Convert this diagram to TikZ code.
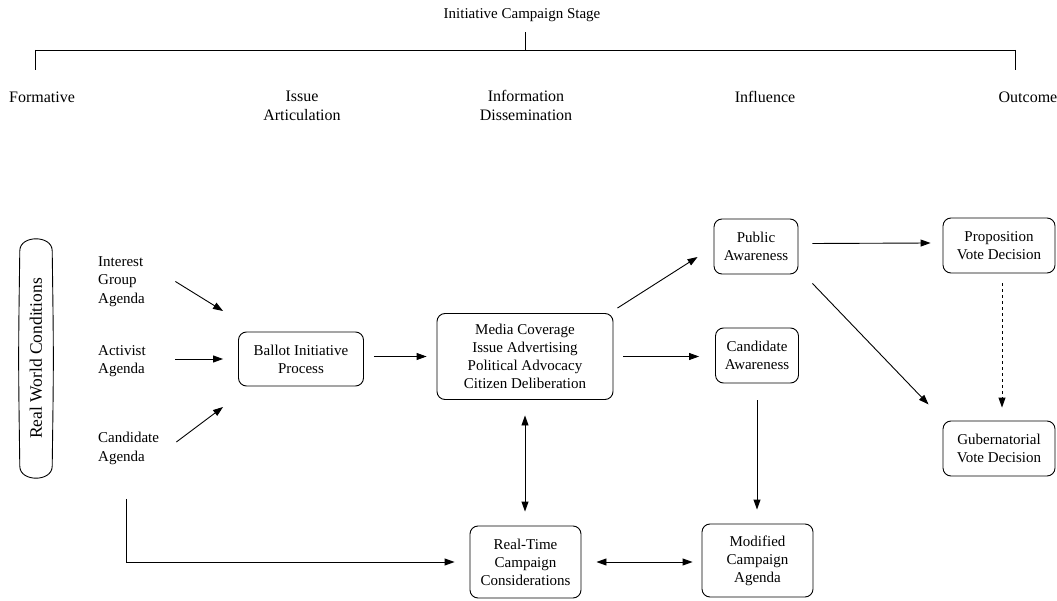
\documentclass[tikz,border=0pt]{standalone}
\usepackage{fontspec}
\setmainfont{Liberation Serif}
\usetikzlibrary{arrows.meta}
\begin{document}
\begin{tikzpicture}[x=1pt,y=-1pt,
  ln/.style={line width=0.9pt},
  box/.style={draw, line width=0.9pt, rounded corners=8pt, align=center, inner sep=0pt, font=\fontsize{15}{18}\selectfont},
  lbl/.style={align=center, inner sep=0pt, font=\fontsize{16}{19}\selectfont},
  ag/.style={align=left, inner sep=0pt, anchor=west, text width=62pt, font=\fontsize{15}{18.5}\selectfont},
  arr/.style={ln, -{Triangle[length=10pt,width=7pt]}},
  darr/.style={ln, {Triangle[length=10pt,width=7pt]}-{Triangle[length=10pt,width=7pt]}}]
\useasboundingbox (0,0) rectangle (1057,601);

% stage tree
\node[lbl, font=\fontsize{15}{18}\selectfont] (title) at (522,15) {Initiative Campaign Stage};
\coordinate (tc) at (525,50);
\coordinate (tl) at (35,50);
\coordinate (tr) at (1015,50);
\draw[ln, shorten >=10pt] (tc) -- (title.south -| tc);
\draw[ln] (tl) -- (tr);
\draw[ln] (tl) -- ++(0,20);
\draw[ln] (tr) -- ++(0,20);
\node[lbl] (s1) at (42,97) {Formative};
\node[lbl] (s2) at (302,105.5) {Issue\\Articulation};
\node[lbl] (s3) at (526,105.5) {Information\\Dissemination};
\node[lbl] (s4) at (765,97) {Influence};
\node[lbl] (s5) at (1028,97) {Outcome};

% real world conditions
\node[minimum width=32pt, minimum height=243pt, inner sep=0pt] (rw) at (36,358.5) {};
\draw[ln] ([yshift=-14pt]rw.north west) .. controls ([yshift=2pt]rw.north west) and ([yshift=2pt]rw.north east) .. ([yshift=-14pt]rw.north east)
  .. controls ([xshift=1.5pt]rw.east) .. ([yshift=14pt]rw.south east)
  .. controls ([yshift=-2pt]rw.south east) and ([yshift=-2pt]rw.south west) .. ([yshift=14pt]rw.south west)
  .. controls ([xshift=-1.5pt]rw.west) .. cycle;
\node[rotate=90, inner sep=0pt, font=\fontsize{17.5}{20}\selectfont] (rwt) at (rw) {Real World Conditions};

% agendas
\node[ag] (ig) at (98,281.5) {Interest\\Group\\Agenda};
\node[ag] (act) at (98,361) {Activist\\Agenda};
\node[ag] (cand) at (98,448.5) {Candidate\\Agenda};

% boxes
\node[box, minimum width=125pt, minimum height=54pt] (ballot) at (301,359) {Ballot Initiative\\Process};
\node[box, minimum width=176pt, minimum height=86pt] (media) at (525,356.5) {Media Coverage\\Issue Advertising\\Political Advocacy\\Citizen Deliberation};
\node[box, minimum width=84pt, minimum height=55pt] (pub) at (756,246.5) {Public\\Awareness};
\node[box, minimum width=83pt, minimum height=55pt] (canda) at (757,355.5) {Candidate\\Awareness};
\node[box, minimum width=112pt, minimum height=55pt] (prop) at (999,245.5) {Proposition\\Vote Decision};
\node[box, minimum width=112pt, minimum height=55pt] (gub) at (999,448.5) {Gubernatorial\\Vote Decision};
\node[box, minimum width=111pt, minimum height=72pt] (rt) at (525.5,562) {Real-Time\\Campaign\\Considerations};
\node[box, minimum width=111pt, minimum height=73pt] (mod) at (757.5,560.5) {Modified\\Campaign\\Agenda};

% connectors
\draw[arr] ([xshift=15pt]ig.east) -- ([xshift=-15pt,yshift=48pt]ballot.west);
\draw[arr, shorten <=15pt, shorten >=15pt] (ballot.west -| act.east) -- (ballot.west);
\draw[arr] ([xshift=16pt,yshift=6.5pt]cand.east) -- ([xshift=-15pt,yshift=-48pt]ballot.west);
\draw[arr, shorten >=15pt] ([xshift=-3pt,yshift=-34pt]cand.south) |- (rt.west);
\draw[arr, shorten <=10pt, shorten >=10pt] (ballot.east |- media.west) -- (media.west);
\draw[arr] ([xshift=4pt,yshift=5pt]media.north east) -- ([xshift=-16pt,yshift=-10.5pt]pub.west);
\draw[arr, shorten <=10pt, shorten >=16pt] (media.east) -- (media.east -| canda.west);
\draw[arr] ([xshift=14pt,yshift=3pt]pub.east) -- ([xshift=-12pt,yshift=2.5pt]prop.west);
\draw[arr] ([xshift=14pt,yshift=-9pt]pub.south east) -- ([xshift=-14pt,yshift=44pt]gub.west);
\draw[arr, dashed, shorten <=10pt, shorten >=13pt] ([xshift=3pt]prop.south) -- ([xshift=3pt]gub.north);
\draw[arr, shorten <=17pt, shorten >=14pt] (canda.south) -- (canda.south |- mod.north);
\draw[darr, shorten <=15.5pt, shorten >=14pt] (media.south) -- (media.south |- rt.north);
\draw[darr, shorten <=15pt, shorten >=9pt] (rt.east) -- (rt.east -| mod.west);
\end{tikzpicture}
\end{document}
